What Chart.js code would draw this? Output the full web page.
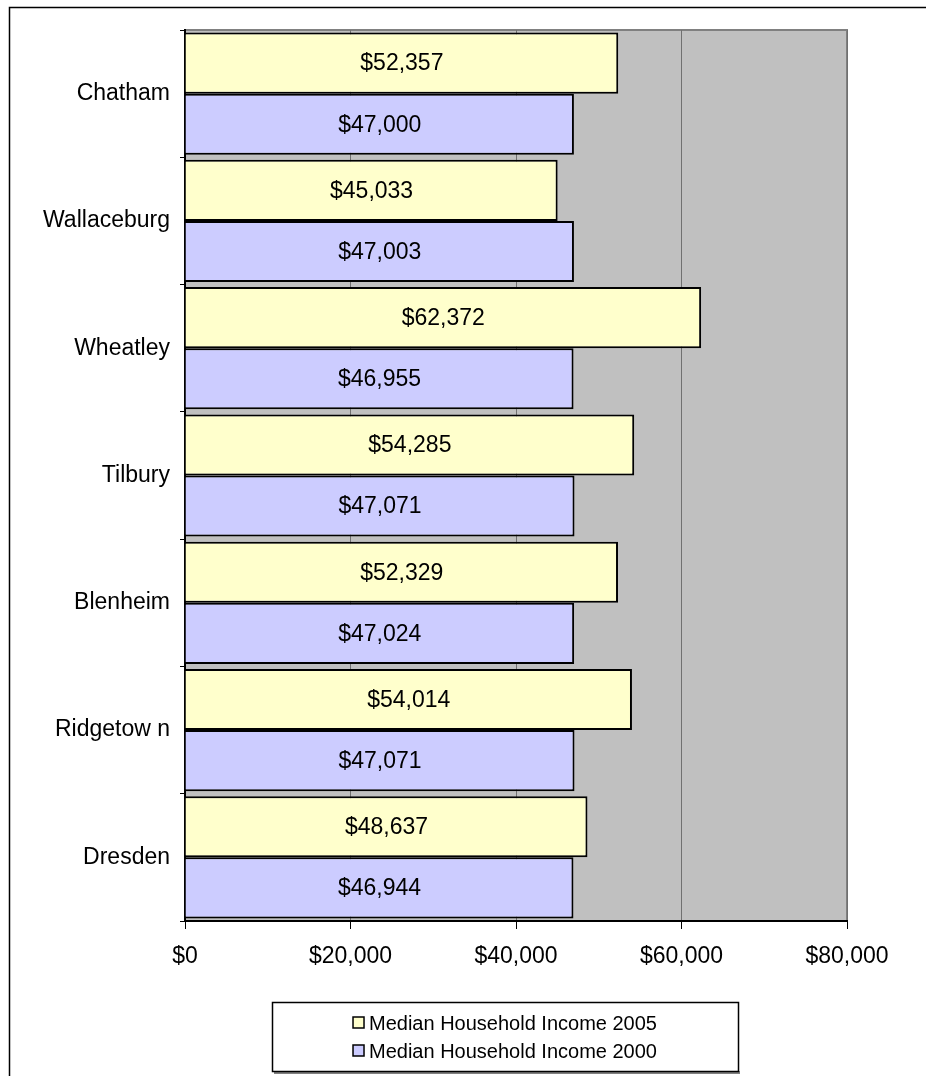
<!DOCTYPE html>
<html>
<head>
<meta charset="utf-8">
<script src="https://cdn.jsdelivr.net/npm/chart.js@4"></script>
<style>
  body { margin: 0; background: #fff; }
  #wrap { width: 926px; height: 1076px; position: relative; }
</style>
</head>
<body>
<div id="wrap"><canvas id="incomeChart"></canvas></div>
<script>
// median household income by community
const categories = ['Chatham', 'Wallaceburg', 'Wheatley', 'Tilbury', 'Blenheim', 'Ridgetow n', 'Dresden'];
const income2005 = [52357, 45033, 62372, 54285, 52329, 54014, 48637];
const income2000 = [47000, 47003, 46955, 47071, 47024, 47071, 46944];
const seriesNames = ['Median Household Income 2005', 'Median Household Income 2000'];
const xTicks = [0, 20000, 40000, 60000, 80000];

const money = v => '$' + Number(v).toLocaleString('en-US');
const FONT = '"Liberation Sans", Arial, sans-serif';

// grey plot area + outer frame
const backdrop = {
    id: 'backdrop',
    beforeDraw(chart) {
        const { ctx, chartArea: a } = chart;
        ctx.save();
        ctx.fillStyle = '#fff';
        ctx.fillRect(0, 0, chart.width, chart.height);
        ctx.strokeStyle = '#000';
        ctx.lineWidth = 1.5;
        ctx.beginPath();
        ctx.moveTo(9.5, chart.height + 5);
        ctx.lineTo(9.5, 7.5);
        ctx.lineTo(chart.width + 5, 7.5);
        ctx.stroke();
        ctx.fillStyle = '#C0C0C0';
        ctx.fillRect(a.left, a.top, a.right - a.left, a.bottom - a.top);
        ctx.strokeStyle = '#808080';
        ctx.lineWidth = 2;
        ctx.beginPath();
        ctx.moveTo(a.left, a.top);
        ctx.lineTo(a.right, a.top);
        ctx.lineTo(a.right, a.bottom);
        ctx.stroke();
        ctx.restore();
    }
};

// value labels in the middle of each bar
const barLabels = {
    id: 'barLabels',
    afterDatasetsDraw(chart) {
        const ctx = chart.ctx;
        ctx.save();
        ctx.font = '23px ' + FONT;
        ctx.fillStyle = '#000';
        ctx.textAlign = 'center';
        ctx.textBaseline = 'middle';
        chart.data.datasets.forEach((ds, i) => {
            chart.getDatasetMeta(i).data.forEach((bar, j) => {
                ctx.fillText(money(ds.data[j]), (bar.base + bar.x) / 2, bar.y + 1);
            });
        });
        ctx.restore();
    }
};

// boxed legend, one series per row
const boxLegend = {
    id: 'boxLegend',
    afterDraw(chart) {
        const ctx = chart.ctx;
        const box = { x: 272, y: 1002, w: 466, h: 69 };
        ctx.save();
        ctx.fillStyle = '#808080';
        ctx.fillRect(box.x + 2, box.y + box.h, box.w, 3);
        ctx.fillStyle = '#fff';
        ctx.fillRect(box.x, box.y, box.w, box.h);
        ctx.strokeStyle = '#000';
        ctx.lineWidth = 1.5;
        ctx.strokeRect(box.x + 0.5, box.y + 0.5, box.w, box.h);
        ctx.font = '20px ' + FONT;
        ctx.textBaseline = 'middle';
        ctx.textAlign = 'left';
        chart.data.datasets.forEach((ds, i) => {
            const tw = ctx.measureText(ds.label).width;
            const x0 = box.x + (box.w - (tw + 16)) / 2;
            const cy = box.y + 21 + i * 28;
            ctx.fillStyle = ds.backgroundColor;
            ctx.fillRect(x0, cy - 6, 11, 11);
            ctx.strokeStyle = '#000';
            ctx.lineWidth = 1.5;
            ctx.strokeRect(x0, cy - 6, 11, 11);
            ctx.fillStyle = '#000';
            ctx.fillText(ds.label, x0 + 16, cy + 1);
        });
        ctx.restore();
    }
};

const incomeData = {
    labels: categories,
    datasets: [
        {
            label: seriesNames[0],
            data: income2005,
            backgroundColor: '#FFFFCC',
            borderColor: '#000',
            borderWidth: 2
        },
        {
            label: seriesNames[1],
            data: income2000,
            backgroundColor: '#CCCCFF',
            borderColor: '#000',
            borderWidth: 2
        }
    ]
};

const incomeConfig = {
    type: 'bar',
    data: incomeData,
    options: {
        responsive: true,
        maintainAspectRatio: false,
        animation: false,
        indexAxis: 'y',
        categoryPercentage: 0.96,
        barPercentage: 1,
        layout: { padding: { top: 30, right: 79, left: 0, bottom: 0 } },
        scales: {
            x: {
                min: 0,
                max: 80000,
                afterBuildTicks(scale) {
                    scale.ticks = xTicks.map(v => ({ value: v }));
                },
                afterFit(scale) { scale.height = 155; },
                grid: {
                    color: '#707070',
                    tickColor: '#000',
                    tickLength: 8,
                    lineWidth: 1
                },
                border: { color: '#000', width: 2 },
                ticks: {
                    color: '#000',
                    padding: 14,
                    maxRotation: 0,
                    font: { family: FONT, size: 23 },
                    callback: v => money(v)
                }
            },
            y: {
                afterFit(scale) { scale.width = 185; },
                grid: {
                    drawOnChartArea: false,
                    offset: true,
                    color: '#000',
                    tickLength: 5
                },
                border: { color: '#000', width: 2 },
                ticks: {
                    color: '#000',
                    padding: 10,
                    font: { family: FONT, size: 23 }
                }
            }
        },
        plugins: {
            legend: { display: false },
            tooltip: { enabled: false }
        }
    },
    plugins: [backdrop, barLabels, boxLegend]
};

const incomeChart = new Chart(document.querySelector('#incomeChart'), incomeConfig);
</script>
</body>
</html>
